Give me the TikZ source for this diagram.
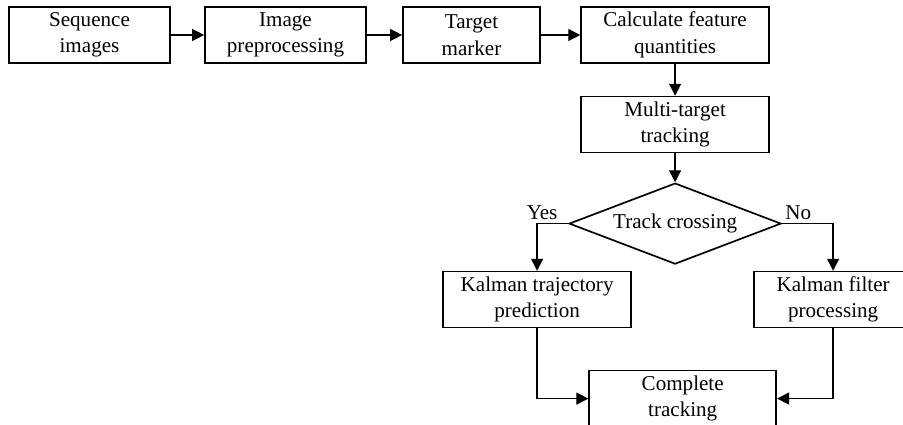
\documentclass[tikz,border=0pt]{standalone}
\usepackage{fontspec}
\setmainfont{Liberation Serif}
\usetikzlibrary{shapes.geometric,arrows.meta}

\begin{document}
\begin{tikzpicture}[node distance=4.9cm, auto,
    font=\fontsize{15}{18.8}\selectfont,
    block/.style={rectangle, draw, line width=1.2pt, align=center, minimum height=1.4cm, inner sep=0pt},
    decision/.style={diamond, draw, line width=1.2pt, aspect=2.6, minimum width=5.3cm, minimum height=2.025cm, inner sep=0pt},
    answer/.style={inner sep=2pt},
    line/.style={draw, line width=0.9pt, -{Triangle[length=3mm,width=3mm]}}]

    \useasboundingbox (0,0) rectangle (22.575,-10.625);
    \clip (0,0) rectangle (22.575,-10.625);

    \node [block, minimum width=4.025cm] (seq) at (2.2375,-0.875) {Sequence\\images};
    \node [block, minimum width=4.025cm, right of=seq] (prep) {Image\\preprocessing};
    \node [block, minimum width=3.425cm, right of=prep, node distance=4.65cm] (mark) {Target\\marker};
    \node [block, minimum width=4.7cm, right of=mark, node distance=5.09cm] (feat) {Calculate feature\\quantities};
    \node [block, minimum width=4.7cm, below of=feat, node distance=2.24cm] (multi) {Multi-target\\tracking};
    \node [decision, below of=multi, node distance=2.475cm] (cross) {Track crossing};
    \node [block, minimum width=4.7cm, below of=cross, node distance=1.9cm, xshift=-3.45cm] (traj) {Kalman trajectory\\prediction};
    \node [block, minimum width=3.95cm, below of=cross, node distance=1.9cm, xshift=3.95cm] (filt) {Kalman filter\\processing};
    \node [block, minimum width=4.675cm, below of=cross, node distance=4.375cm, xshift=0.19cm] (done) {Complete\\tracking};

    \path [line] (seq) -- (prep);
    \path [line] (prep) -- (mark);
    \path [line] (mark) -- (feat);
    \path [line] (feat) -- (multi);
    \path [line] (multi) -- (cross);
    \path [line] (cross.west) -| node [answer, pos=0.5, anchor=south, xshift=0.125cm] {Yes} (traj);
    \path [line] (cross.east) -| node [answer, pos=0, anchor=south west] {No} (filt);
    \path [line] (traj) |- (done);
    \path [line] (filt) |- (done);
\end{tikzpicture}
\end{document}
